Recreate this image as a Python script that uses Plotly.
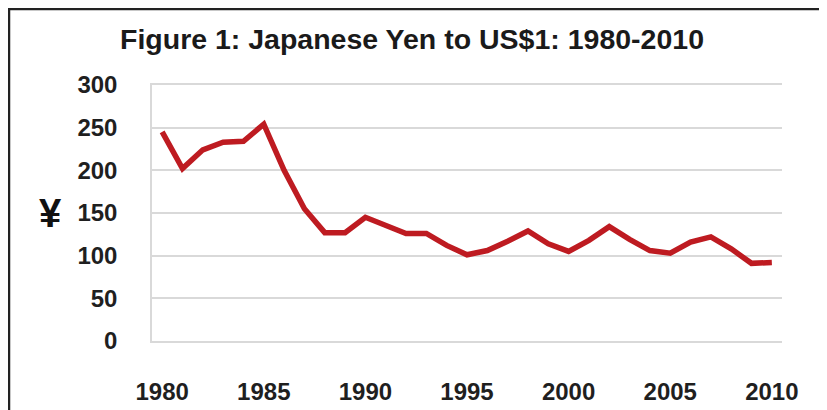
import plotly.graph_objects as go

years = list(range(1980, 2011))
yen_per_usd = [245, 202, 224, 233, 234, 254, 200, 155, 127, 127,
               145, 135, 126, 126, 112, 101, 106, 117, 129, 114,
               105, 118, 134, 119, 106, 103, 116, 122, 108, 91, 92]
x_ticks = [1980, 1985, 1990, 1995, 2000, 2005, 2010]
y_ticks = [0, 50, 100, 150, 200, 250, 300]
title_text = "Figure 1: Japanese Yen to US$1: 1980-2010"
y_label = "¥"

FONT = "Liberation Sans"
W, H = 827, 410
# plot area in figure pixels
L, R, T, B = 144, 774, 77, 333
PW, PH = R - L, B - T


def px(x):
    return (x - L) / PW


def py(y):
    return (B - y) / PH


fig = go.Figure()
fig.add_trace(go.Scatter(
    x=years, y=yen_per_usd, mode="lines",
    line=dict(color="#BE1B21", width=5.5, shape="linear"),
    hoverinfo="x+y", showlegend=False,
))

tick_font = dict(family=FONT, size=24, color="#1f1f1f", weight="bold")

fig.update_layout(
    width=W, height=H,
    margin=dict(l=L, r=W - R, t=T, b=H - B, pad=0),
    paper_bgcolor="white", plot_bgcolor="white",
    title=dict(text=title_text, xref="container", yref="container",
               x=404 / W, xanchor="center", y=1 - 31 / H, yanchor="middle",
               font=dict(family=FONT, size=28.5, color="#1a1a1a", weight="bold")),
    xaxis=dict(range=[1979.5, 2010.5], tickvals=x_ticks, ticktext=[str(v) for v in x_ticks],
               showgrid=False, zeroline=False, showline=True, mirror=True,
               linecolor="#d9d9d9", linewidth=2, ticks="",
               ticklabelstandoff=28, tickfont=tick_font),
    yaxis=dict(range=[0, 300], tickvals=y_ticks, showgrid=True, gridcolor="#d9d9d9",
               gridwidth=2, zeroline=False, showline=True, linecolor="#d9d9d9", linewidth=1.5,
               ticks="", ticklabelstandoff=28, tickfont=tick_font),
    annotations=[dict(text=y_label, xref="paper", yref="paper", x=px(42), y=py(205),
                      xanchor="center", yanchor="middle", showarrow=False,
                      font=dict(family=FONT, size=40, color="#111", weight="bold"))],
    shapes=[
        dict(type="line", xref="paper", yref="paper", x0=px(0), x1=px(W + 5),
             y0=py(1), y1=py(1), line=dict(color="#222", width=2.5)),
        dict(type="line", xref="paper", yref="paper", x0=px(1), x1=px(1),
             y0=py(1), y1=py(H + 5), line=dict(color="#222", width=2.5)),
    ],
)

fig.write_html("out.html")
